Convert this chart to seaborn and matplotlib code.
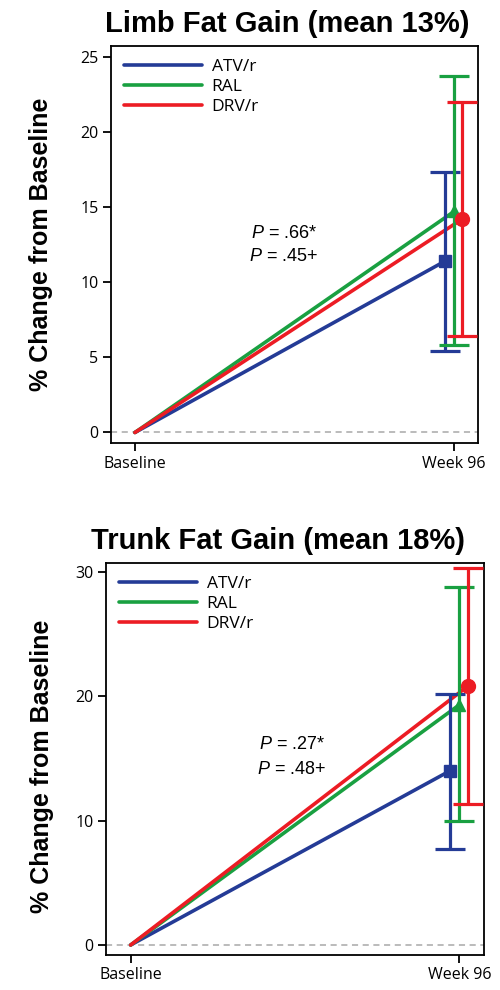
import matplotlib
matplotlib.use("Agg")
import matplotlib.pyplot as plt
import seaborn as sns
import pandas as pd

# Treatment arms and visit labels
groups = ["ATV/r", "RAL", "DRV/r"]
visits = ["Baseline", "Week 96"]

# Limb fat: % change at week 96 (mean with 95% CI)
limb_mean = [11.4, 14.7, 14.2]
limb_lo = [5.4, 5.8, 6.4]
limb_hi = [17.3, 23.7, 22.0]
limb_p = ["= .66*", "= .45+"]
limb_ticks = [0, 5, 10, 15, 20, 25]

# Trunk fat: % change at week 96 (mean with 95% CI)
trunk_mean = [14.0, 19.3, 20.8]
trunk_lo = [7.7, 10.0, 11.3]
trunk_hi = [20.2, 28.8, 30.3]
trunk_p = ["= .27*", "= .48+"]
trunk_ticks = [0, 10, 20, 30]

baseline_value = [0.0, 0.0, 0.0]

colors = {"ATV/r": "#243b96", "RAL": "#19a041", "DRV/r": "#ec1c24"}
markers = {"ATV/r": "s", "RAL": "^", "DRV/r": "o"}
msizes = {"ATV/r": 9, "RAL": 9, "DRV/r": 10}
dodge = {"ATV/r": -0.028, "RAL": 0.0, "DRV/r": 0.026}

sns.set_theme(style="ticks")
plt.rcParams["font.family"] = ["Liberation Sans", "DejaVu Sans"]
plt.rcParams["text.color"] = "black"
plt.rcParams["axes.labelcolor"] = "black"
plt.rcParams["mathtext.fontset"] = "custom"
plt.rcParams["mathtext.it"] = "Liberation Sans:italic"
plt.rcParams["mathtext.rm"] = "Liberation Sans"

fig = plt.figure(figsize=(5.0, 9.9), dpi=100)
ax_top = fig.add_axes([0.222, 0.5525, 0.734, 0.401])
ax_bot = fig.add_axes([0.212, 0.0354, 0.756, 0.396])


def draw_panel(ax, title, title_x, means, lo, hi, pvals, ticks, ylim,
               ptext_xy, pgap, ylab_xy):
    rows = []
    for g, b, m in zip(groups, baseline_value, means):
        rows.append({"group": g, "x": 0.0, "change": b})
        rows.append({"group": g, "x": 1.0 + dodge[g], "change": m})
    df = pd.DataFrame(rows)

    ax.axhline(0, color="#a8a8a8", lw=1.1, ls=(0, (4, 3)), zorder=1)

    sns.lineplot(data=df, x="x", y="change", hue="group", hue_order=groups,
                 palette=colors, lw=2.6, ax=ax, sort=False, zorder=3,
                 estimator=None)

    for g, m, l, h in zip(groups, means, lo, hi):
        xpos = 1.0 + dodge[g]
        ax.errorbar([xpos], [m], yerr=[[m - l], [h - m]], fmt=markers[g],
                    color=colors[g], ms=msizes[g], elinewidth=2.3,
                    capsize=11, capthick=2.3, zorder=4)

    leg = ax.legend(frameon=False, loc="upper left", handlelength=4.5,
                    handletextpad=0.55, labelspacing=0.22,
                    borderaxespad=0.35,
                    prop={"family": "Open Sans", "size": 12.5})
    for line in leg.get_lines():
        line.set_linewidth(2.6)

    ax.set_xlim(-0.075, 1.075)
    ax.set_ylim(*ylim)
    ax.set_xticks([0, 1])
    ax.set_xticklabels(visits, fontsize=11.5, family="Open Sans")
    ax.set_yticks(ticks)
    ax.set_yticklabels([str(t) for t in ticks], fontsize=11.5, family="Open Sans")
    ax.set_xlabel("")
    ax.set_ylabel("% Change from Baseline", fontsize=18, fontweight="bold")
    ax.yaxis.set_label_coords(*ylab_xy)
    ax.set_title(title, fontsize=21, fontweight="bold", pad=10, color="black",
                 x=title_x)

    for s in ax.spines.values():
        s.set_visible(True)
        s.set_color("black")
        s.set_linewidth(1.3)
    ax.tick_params(axis="both", direction="out", length=6, width=1.3,
                   colors="black", pad=3)

    px, py = ptext_xy
    for i, p in enumerate(pvals):
        ax.text(px, py + pgap / 2 - i * pgap, r"$\it{P}$ " + p,
                transform=ax.transAxes, ha="center", va="center",
                fontsize=13, family="Liberation Sans")


draw_panel(ax_top, "Limb Fat Gain (mean 13%)", 0.48, limb_mean, limb_lo,
           limb_hi, limb_p, limb_ticks, (-0.7, 25.7), (0.471, 0.499), 0.057,
           (-0.157, 0.5))
draw_panel(ax_bot, "Trunk Fat Gain (mean 18%)", 0.456, trunk_mean, trunk_lo,
           trunk_hi, trunk_p, trunk_ticks, (-0.8, 30.7), (0.492, 0.505),
           0.064, (-0.138, 0.48))

fig.savefig("out.png", dpi=100)
